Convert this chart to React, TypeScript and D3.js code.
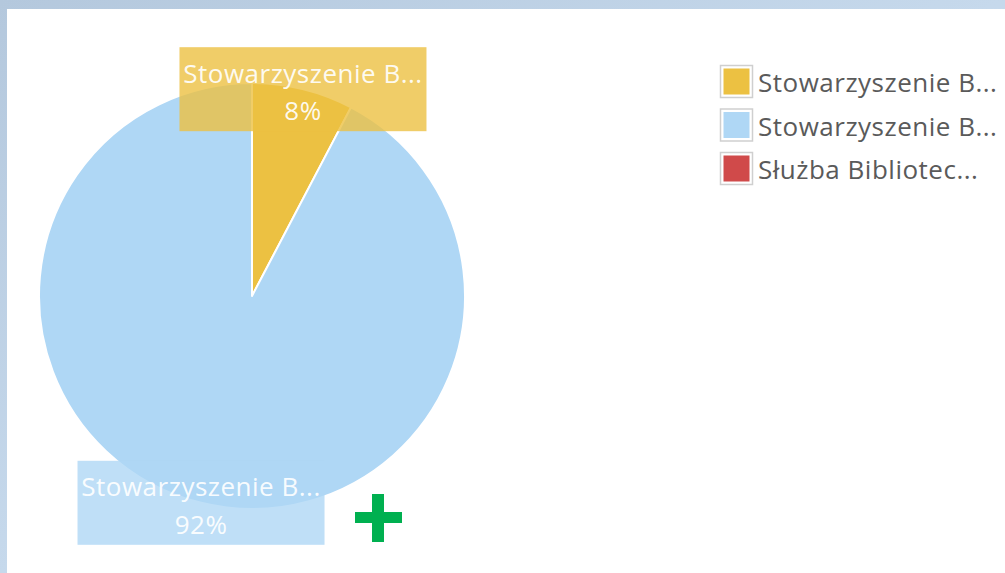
import React from "react";
import * as d3 from "d3";

const categories = ["Stowarzyszenie B...", "Stowarzyszenie B...", "Służba Bibliotec..."];
const values = [1, 12, 0];
const colors = ["#ecc142", "#afd7f5", "#d04a4a"];

const W = 1005;
const H = 573;
const cx = 252;
const cy = 296;
const R = 213;
const FONT = "'Open Sans', 'Noto Sans', sans-serif";

export default function App() {
  const total = d3.sum(values);
  const pie = d3.pie<number>().sort(null).value((d) => d)(values);
  const arc = d3.arc<d3.PieArcDatum<number>>().innerRadius(0).outerRadius(R);
  const fmt = (v: number) => `${Math.round((v / total) * 100)}%`;
  const boxW = 247;
  const boxH = 84;

  return (
    <div style={{ position: "fixed", left: 0, top: 0, width: W, height: H }}>
      <svg width={W} height={H} style={{ display: "block" }}>
        <defs>
          <linearGradient id="frame" x1="0" y1="0" x2="1" y2="1">
            <stop offset="0" stopColor="#b4c8dd" />
            <stop offset="0.5" stopColor="#c6d9ec" />
            <stop offset="1" stopColor="#cfe1f3" />
          </linearGradient>
        </defs>
        <rect x={0} y={0} width={W} height={H} fill="url(#frame)" />
        <rect x={7} y={9} width={W - 7} height={H - 9} fill="#ffffff" />
        <g transform={`translate(${cx},${cy})`}>
          {pie.map((d, i) =>
            d.value > 0 ? (
              <path key={i} d={arc(d) || ""} fill={colors[i]} stroke="#ffffff" strokeWidth={2} strokeLinejoin="round" />
            ) : null
          )}
          {pie.map((d, i) => {
            if (d.value <= 0) return null;
            const a = (d.startAngle + d.endAngle) / 2;
            const x = Math.sin(a) * R;
            const y = -Math.cos(a) * R;
            return (
              <g key={"l" + i} transform={`translate(${x},${y})`}>
                <rect x={-boxW / 2} y={-boxH / 2} width={boxW} height={boxH} fill={colors[i]} fillOpacity={0.8} />
                <text textAnchor="middle" y={-6.5} fill="#ffffff" fillOpacity={0.92} fontFamily={FONT} fontSize={26} letterSpacing={0.5}>
                  {categories[i]}
                </text>
                <text textAnchor="middle" y={31} fill="#ffffff" fillOpacity={0.92} fontFamily={FONT} fontSize={26} letterSpacing={0.5}>
                  {fmt(d.value)}
                </text>
              </g>
            );
          })}
        </g>
        <g>
          {categories.map((c, i) => (
            <g key={"lg" + i} transform={`translate(720,${65 + i * 43.5})`}>
              <rect x={0.5} y={0.5} width={32} height={32} fill="#ffffff" stroke="#cfcfcf" strokeWidth={1.5} />
              <rect x={3.5} y={3.5} width={26} height={26} fill={colors[i]} />
              <text x={38} y={27} fill="#5a5a5a" fontFamily={FONT} fontSize={26} letterSpacing={0.5}>
                {c}
              </text>
            </g>
          ))}
        </g>
        <g fill="#00b050">
          <rect x={355} y={512} width={47} height={11} />
          <rect x={372} y={494} width={12} height={48} />
        </g>
      </svg>
    </div>
  );
}
